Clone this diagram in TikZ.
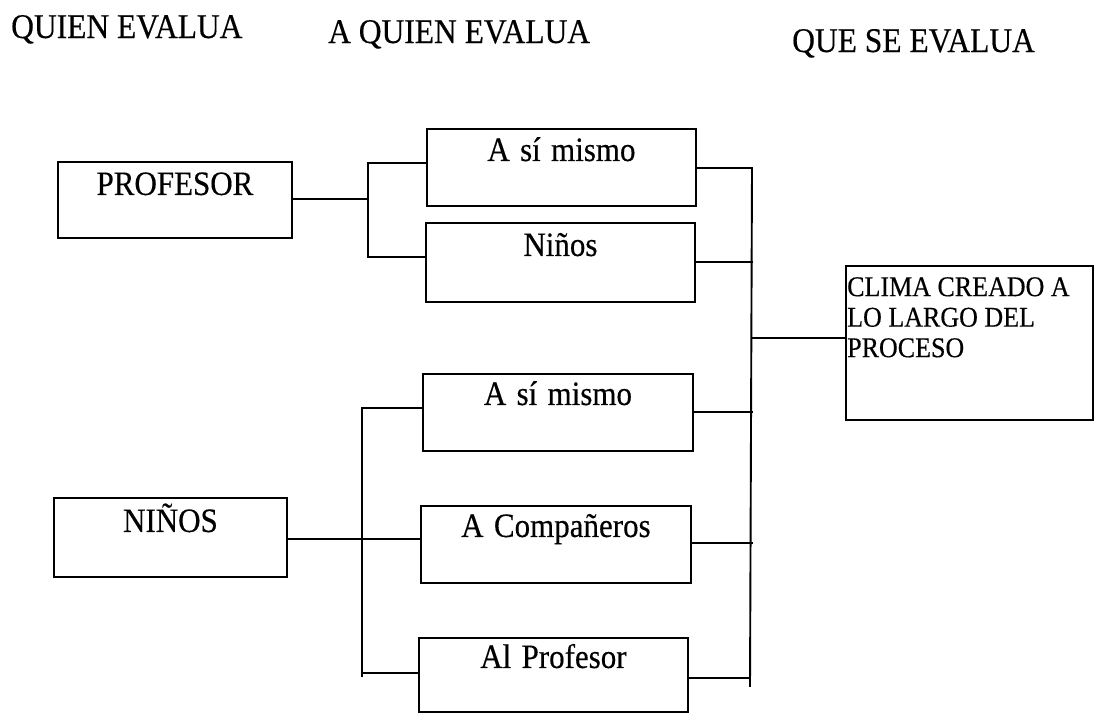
\documentclass[tikz,border=0pt]{standalone}
\usepackage{fontspec}
\setmainfont{Liberation Serif}[FakeBold=0.4]
\usepackage{graphicx}
\newcommand{\vs}[1]{\scalebox{1}[1.1]{#1}}
\begin{document}
\begin{tikzpicture}[x=1pt,y=-1pt,
  ln/.style={line width=1.9pt, line cap=rect},
  hdr/.style={anchor=base west, inner sep=0pt, font=\rmfamily\fontsize{31.5}{36}\selectfont},
  bx/.style={draw, line width=1.9pt, anchor=north west, inner sep=0pt, align=center,
             font=\rmfamily\fontsize{31}{36}\selectfont},
]
\useasboundingbox (0,0) rectangle (1094,713);

% headers
\node[hdr] (h1) at (11,38) {\vs{QUIEN EVALUA}};
\node[hdr] (h2) at (328,43) {\vs{A QUIEN EVALUA}};
\node[hdr] (h3) at (792,52) {\vs{QUE SE EVALUA}};

% left boxes
\node[bx, text width=234pt, text height=33pt, text depth=43pt] (prof) at (57,161) {\vs{PROFESOR}};
\node[bx, text width=233pt, text height=34pt, text depth=45pt] (ninos) at (53,497) {\vs{NIÑOS}};

% middle boxes
\node[bx, text width=269pt, text height=32pt, text depth=45pt] (asm1) at (426,128) {\vs{A sí mismo}};
\node[bx, text width=269pt, text height=33pt, text depth=46pt] (nin1) at (425,222) {\vs{Niños}};
\node[bx, text width=270pt, text height=31pt, text depth=46pt] (asm2) at (422,373) {\vs{A sí mismo}};
\node[bx, text width=270pt, text height=31pt, text depth=46pt] (comp) at (420,505) {\vs{A Compañeros}};
\node[bx, text width=269pt, text height=30pt, text depth=44pt] (alp) at (418,637) {\vs{Al Profesor}};

% right box
\node[draw, line width=1.9pt, anchor=north west, inner sep=0pt, minimum width=247pt, minimum height=154pt] (clima) at (845,265) {};
\node[anchor=north west, inner sep=0pt, align=left, font=\rmfamily\fontsize{26}{30.5}\selectfont] (climat) at (847,277)
  {\vs{CLIMA CREADO A}\\\vs{LO LARGO DEL}\\\vs{PROCESO}};

% left bracket (profesor)
\coordinate (bA) at (368,163);
\coordinate (bB) at (368,257);
\draw[ln] (prof.east |- 0,199) -- (bA |- 0,199);
\draw[ln] (asm1.west |- bA) -- (bA) -- (bB) -- (nin1.west |- bB);

% left bracket (ninos)
\coordinate (cA) at (362,408);
\coordinate (cB) at (362,676);
\draw[ln] (ninos.east |- 0,539) -- (comp.west |- 0,539);
\draw[ln] (asm2.west |- cA) -- (cA) -- (cB);
\draw[ln] (cA |- 0,673) -- (alp.west |- 0,673);

% right bracket
\coordinate (rT) at (752,168);
\coordinate (rB) at (750,686);
\draw[ln] (asm1.east |- rT) -- (rT) -- (rB);
\draw[ln] (nin1.east |- 0,262) -- (rT |- 0,262);
\draw[ln] (asm2.east |- 0,412) -- (rT |- 0,412);
\draw[ln] (comp.east |- 0,543) -- (rT |- 0,543);
\draw[ln] (alp.east |- 0,678) -- (rB |- 0,678);
\draw[ln] (rT |- 0,338) -- (clima.west |- 0,338);
\end{tikzpicture}
\end{document}
